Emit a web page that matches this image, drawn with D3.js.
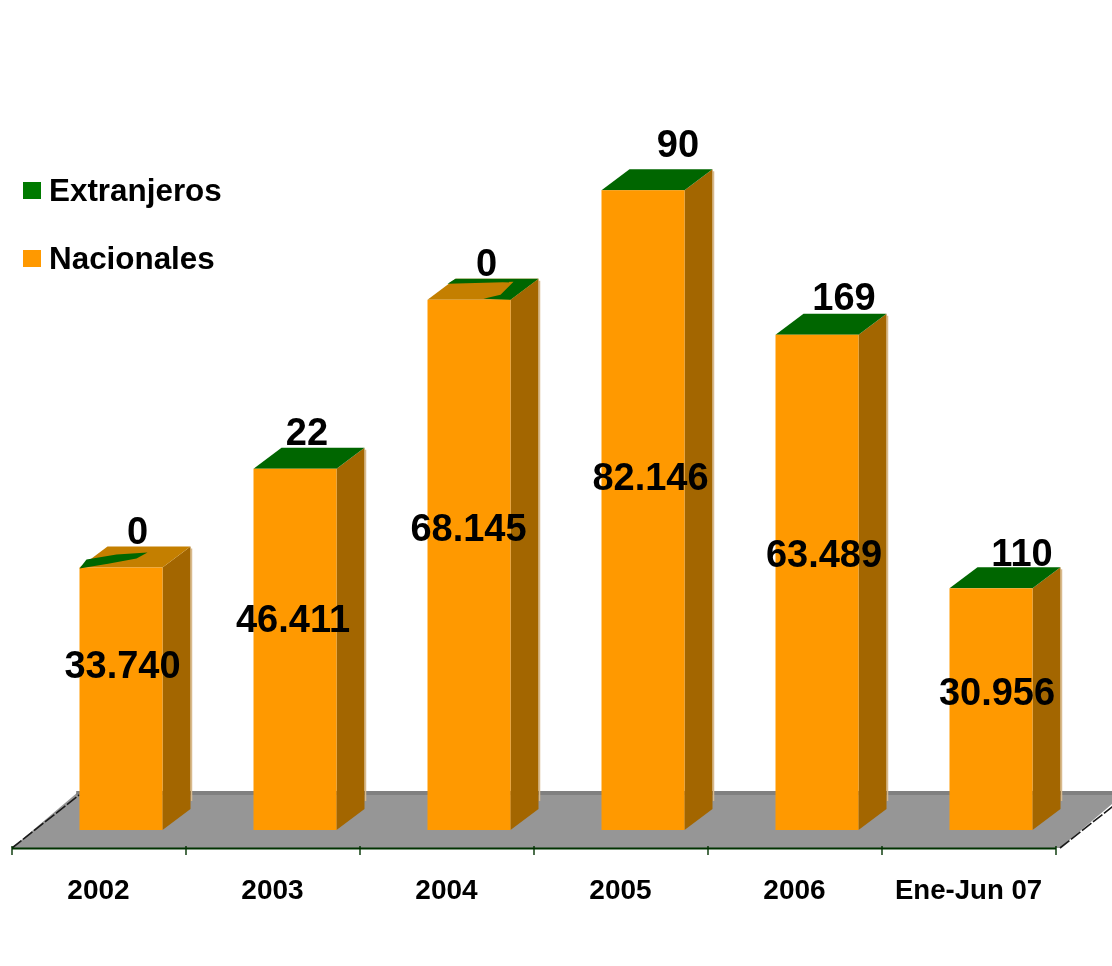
<!DOCTYPE html>
<html><head><meta charset="utf-8">
<script src="https://cdn.jsdelivr.net/npm/d3@7/dist/d3.min.js"></script>
<style>html,body{margin:0;padding:0;background:#fff}svg{display:block;filter:blur(.35px)}text{font-family:"Liberation Sans",Arial,sans-serif;font-weight:bold;fill:#000}</style>
</head><body><svg id="c" width="1112" height="966"></svg>
<script>
const categories=["2002","2003","2004","2005","2006","Ene-Jun 07"];
const nacionales=[33740,46411,68145,82146,63489,30956];
const extranjeros=[0,22,0,90,169,110];
const legendLabels=["Extranjeros","Nacionales"];

// layout and style, separate from the data
const colors={front:"#FF9900",side:"#A36600",topGreen:"#006600",topEmpty:"#C47F00",floor:"#969696",floorBack:"#808080",axis:"#003300",fringe:"#D8B98C",legendGreen:"#007A00"};
const W=1112,H=966,axisY=848,floorBackY=795,baseY=830,barOffset=68,barW=83,dx=28,dy=21;
const natNudge=[[1.5,-35],[-2,-31],[-0.5,-38],[7.5,-34],[7,-29],[6,-18]];
const extNudge=[[2.5,-3],[-2,-3],[3.5,-3],[21,-12],[13,-4],[17,-1]];

const svg=d3.select("#c");
const x=d3.scaleBand().domain(categories).range([11.5,1055.5]);
const y=d3.scaleLinear().domain([0,100000]).range([baseY,52]);
const fmt=v=>d3.format(",")(v).replace(/,/g,".");
const pts=a=>a.map(p=>p.join(",")).join(" ");

// floor
const fdx=dx*2.4;
svg.append("polygon").attr("points",pts([[12,axisY],[12+fdx,floorBackY-4],[1060+fdx,floorBackY-4],[1060,axisY]])).attr("fill",colors.floor);
svg.append("rect").attr("x",12+fdx-3).attr("y",floorBackY-4).attr("width",W).attr("height",4).attr("fill",colors.floorBack);
svg.append("line").attr("x1",12).attr("y1",axisY).attr("x2",12+fdx).attr("y2",floorBackY).attr("stroke","#1a1a1a").attr("stroke-width",1.6).attr("stroke-dasharray","12 2");
svg.append("line").attr("x1",1060).attr("y1",axisY).attr("x2",1060+fdx).attr("y2",floorBackY).attr("stroke","#1a1a1a").attr("stroke-width",1.6).attr("stroke-dasharray","12 2");

// axis
const tickScale=d3.scaleLinear().domain([0,categories.length]).range([11.5,1055.5]);
const ga=svg.append("g").attr("transform",`translate(0,${axisY})`).call(d3.axisBottom(tickScale).tickValues(d3.range(categories.length+1)).tickFormat("").tickSizeOuter(0));
ga.selectAll(".domain").attr("stroke",colors.axis).attr("stroke-width",2);
ga.selectAll(".tick line").attr("stroke",colors.axis).attr("stroke-width",1.4).attr("y1",-2).attr("y2",7);
const gl=svg.append("g").attr("transform",`translate(0,${axisY})`).call(d3.axisBottom(x).tickSize(0).tickPadding(0));
gl.select(".domain").remove();
gl.selectAll("text").attr("y",51).attr("dy",0).style("font-size","28px").style("font-family",'"Liberation Sans",Arial,sans-serif').style("font-weight","bold").attr("fill","#000");
gl.selectAll(".tick").filter((d,i)=>i===5).select("text").style("font-size","27.6px");

// bars
const rows=categories.map((c,i)=>({c,i,n:nacionales[i],e:extranjeros[i]}));
const bars=svg.selectAll("g.bar").data(rows).join("g").attr("class","bar");
const lx=d=>x(d.c)+barOffset, rx=d=>lx(d)+barW, ty=d=>y(d.n+d.e);
bars.append("line").attr("x1",d=>rx(d)+dx+1).attr("x2",d=>rx(d)+dx+1).attr("y1",d=>ty(d)-dy+2).attr("y2",baseY-dy-8).attr("stroke",colors.fringe).attr("stroke-width",1.5);
bars.append("polygon").attr("points",d=>pts([[rx(d),baseY],[rx(d)+dx,baseY-dy],[rx(d)+dx,ty(d)-dy],[rx(d),ty(d)]])).attr("fill",colors.side);
bars.append("polygon").attr("points",d=>pts([[lx(d),ty(d)],[lx(d)+dx,ty(d)-dy],[rx(d)+dx,ty(d)-dy],[rx(d),ty(d)]])).attr("fill",d=>d.e>0?colors.topGreen:colors.topEmpty);
bars.append("rect").attr("x",lx).attr("width",barW).attr("y",ty).attr("height",d=>baseY-ty(d)).attr("fill",colors.front);

// rendering patches on the tops of the two zero-value bars
const b0=rows[0],b2=rows[2];
svg.append("polygon").attr("fill",colors.topGreen).attr("points",pts([[0,1],[7,-8],[37,-13],[68,-15],[57,-9],[30,-4]].map(p=>[lx(b0)+p[0],ty(b0)+p[1]])));
svg.append("polygon").attr("fill",colors.topGreen).attr("points",pts([[20,-16],[28,-21],[111,-21],[83,0],[56,-1],[73,-5],[86,-18]].map(p=>[lx(b2)+p[0],ty(b2)+p[1]])));

// value labels
bars.append("text").attr("text-anchor","middle").style("font-size","38px")
 .attr("x",d=>(lx(d)+rx(d))/2+natNudge[d.i][0]).attr("y",d=>(baseY+ty(d))/2+natNudge[d.i][1]+14)
 .text(d=>fmt(d.n));
bars.append("text").attr("text-anchor","middle").style("font-size","38px")
 .attr("x",d=>(lx(d)+rx(d))/2+dx/2+extNudge[d.i][0]).attr("y",d=>ty(d)-dy+extNudge[d.i][1])
 .text(d=>fmt(d.e));

// legend
const lg=svg.selectAll("g.lg").data(legendLabels).join("g").attr("class","lg").attr("transform",(d,i)=>`translate(0,${182+i*68})`);
lg.append("rect").attr("x",23).attr("width",18).attr("height",17).attr("fill",(d,i)=>i?colors.front:colors.legendGreen);
lg.append("text").attr("x",49).attr("y",(d,i)=>i?19:19).style("font-size","31.4px").text(d=>d);
</script></body></html>
